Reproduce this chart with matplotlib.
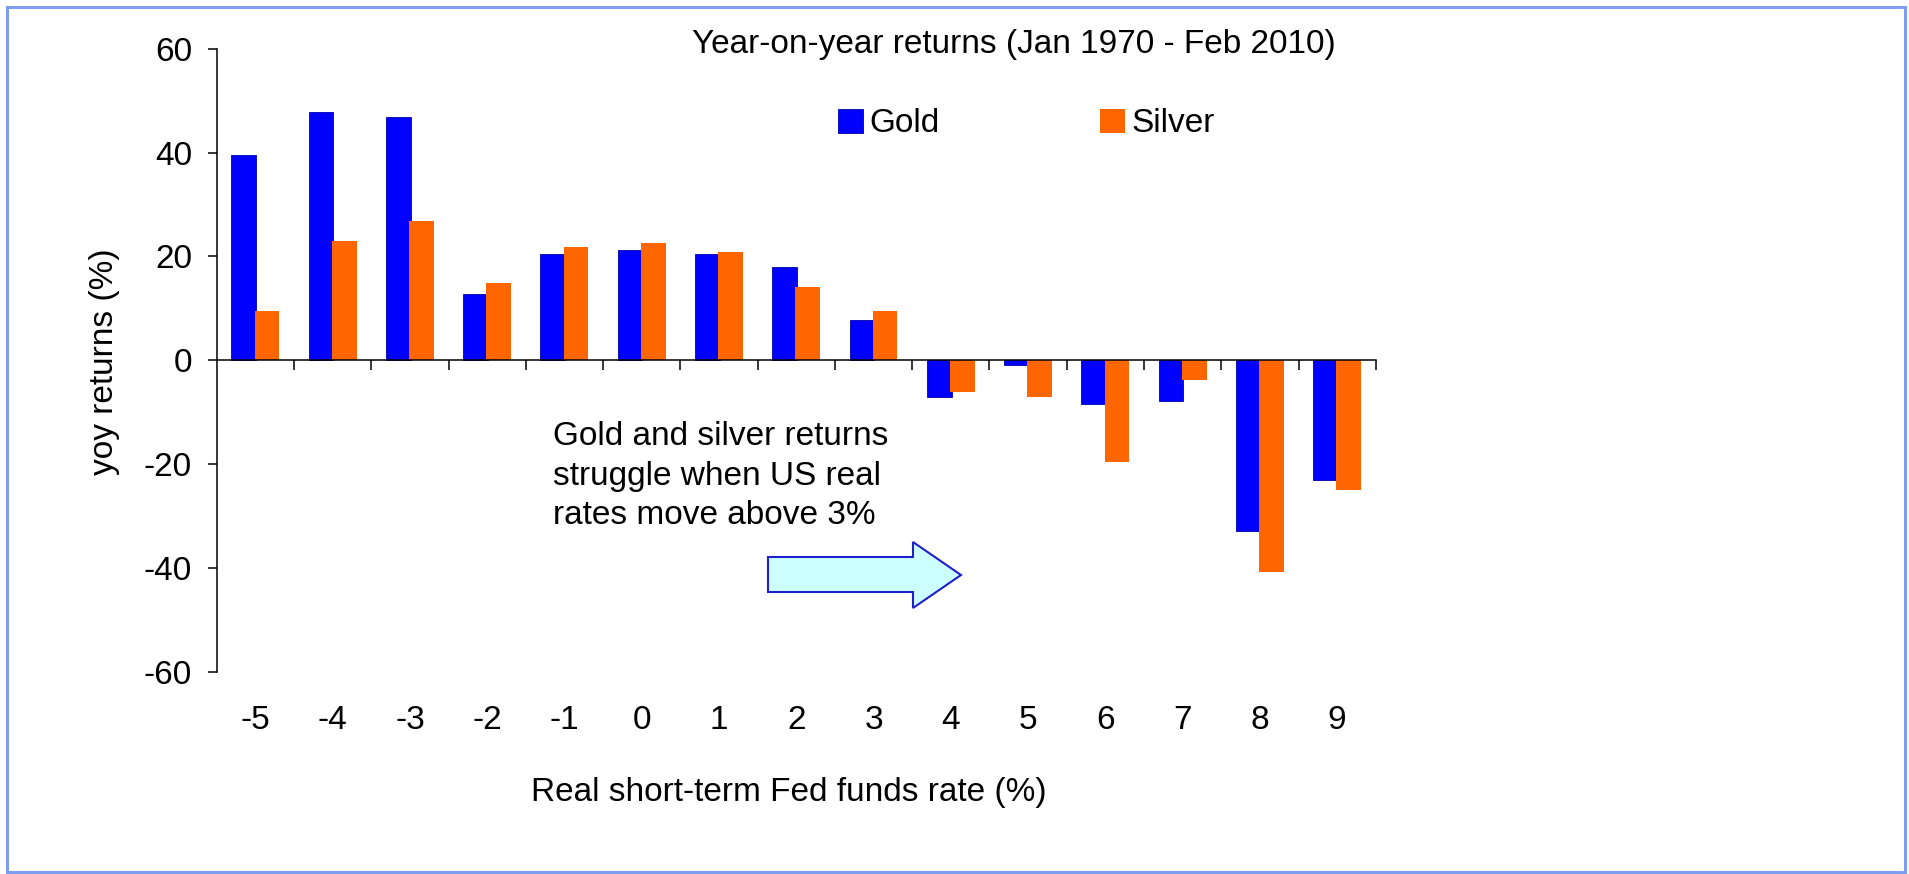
import numpy as np
import matplotlib.pyplot as plt
from matplotlib.patches import Polygon, Rectangle
from matplotlib.transforms import blended_transform_factory

# data
rates = [-5, -4, -3, -2, -1, 0, 1, 2, 3, 4, 5, 6, 7, 8, 9]
gold = [39.6, 47.9, 46.8, 12.7, 20.5, 21.2, 20.5, 18.0, 7.7, -7.0, -0.8, -8.4, -7.8, -32.8, -23.1]
silver = [9.5, 23.0, 26.9, 14.8, 21.9, 22.6, 20.9, 14.1, 9.5, -6.1, -7.0, -19.5, -3.7, -40.7, -24.9]

plt.rcParams['font.family'] = ['Liberation Sans', 'DejaVu Sans']
plt.rcParams['axes.unicode_minus'] = False

W, H = 1909, 874
FS = 24

fig = plt.figure(figsize=(W / 100, H / 100), dpi=100)
ax = fig.add_axes([216.7 / W, 1 - 672 / H, (1375.8 - 216.7) / W, (672 - 48.7) / H])

x = np.arange(len(rates))
ax.bar(x - 0.15, gold, width=0.32, color='#0000FF', edgecolor='#0000B0',
       linewidth=0.6, label='Gold', zorder=2)
ax.bar(x + 0.15, silver, width=0.32, color='#FF6600', label='Silver', zorder=2)

ax.set_xlim(-0.5, len(rates) - 0.5)
ax.set_ylim(-60, 60)
ax.set_yticks(range(-60, 61, 20))
ax.spines[['top', 'right']].set_visible(False)
ax.spines['bottom'].set_position(('data', 0))
for s in ['left', 'bottom']:
    ax.spines[s].set_linewidth(1.1)

# ticks between categories on the zero line
ax.set_xticks(np.arange(0.5, len(rates), 1))
ax.tick_params(axis='x', direction='out', length=7.5, width=1.1, labelbottom=False)
ax.tick_params(axis='y', direction='out', length=6.8, width=1.1, pad=11, labelsize=FS)

# category labels below the plot
trans = blended_transform_factory(ax.transData, ax.transAxes)
for xi, r in zip(x, rates):
    ax.text(xi, -0.078, str(r), transform=trans, ha='center', va='center', fontsize=FS)

ax.legend(loc='center left', bbox_to_anchor=(838 / W, 1 - 124 / H),
          bbox_transform=fig.transFigure, ncol=2, frameon=False, fontsize=FS,
          handlelength=0.75, handleheight=0.75, handletextpad=0.2,
          columnspacing=4.8, borderpad=0, borderaxespad=0)

fig.text(1014 / W, 1 - 44 / H, 'Year-on-year returns (Jan 1970 - Feb 2010)',
         ha='center', va='center', fontsize=FS)
fig.text(789 / W, 1 - 792 / H, 'Real short-term Fed funds rate (%)',
         ha='center', va='center', fontsize=FS)
fig.text(105 / W, 1 - 361.5 / H, 'yoy returns (%)', rotation=90,
         ha='center', va='center', fontsize=FS)
fig.text(553 / W, 1 - 476 / H,
         'Gold and silver returns\nstruggle when US real\nrates move above 3%',
         ha='left', va='center', fontsize=FS, linespacing=1.35)

# block arrow
arrow_px = [(768, 557), (913, 557), (913, 542), (961, 575),
            (913, 608), (913, 592), (768, 592)]
arrow = Polygon([(px / W, 1 - py / H) for px, py in arrow_px], closed=True,
                transform=fig.transFigure, facecolor='#CCFFFF',
                edgecolor='#1F1FCC', linewidth=1.5)
fig.add_artist(arrow)

# outer frame
frame = Rectangle((7 / W, 2 / H), 1898 / W, 865 / H, transform=fig.transFigure,
                  fill=False, edgecolor='#7F9EEF', linewidth=2.2)
fig.add_artist(frame)

fig.savefig('out.png', dpi=100)
